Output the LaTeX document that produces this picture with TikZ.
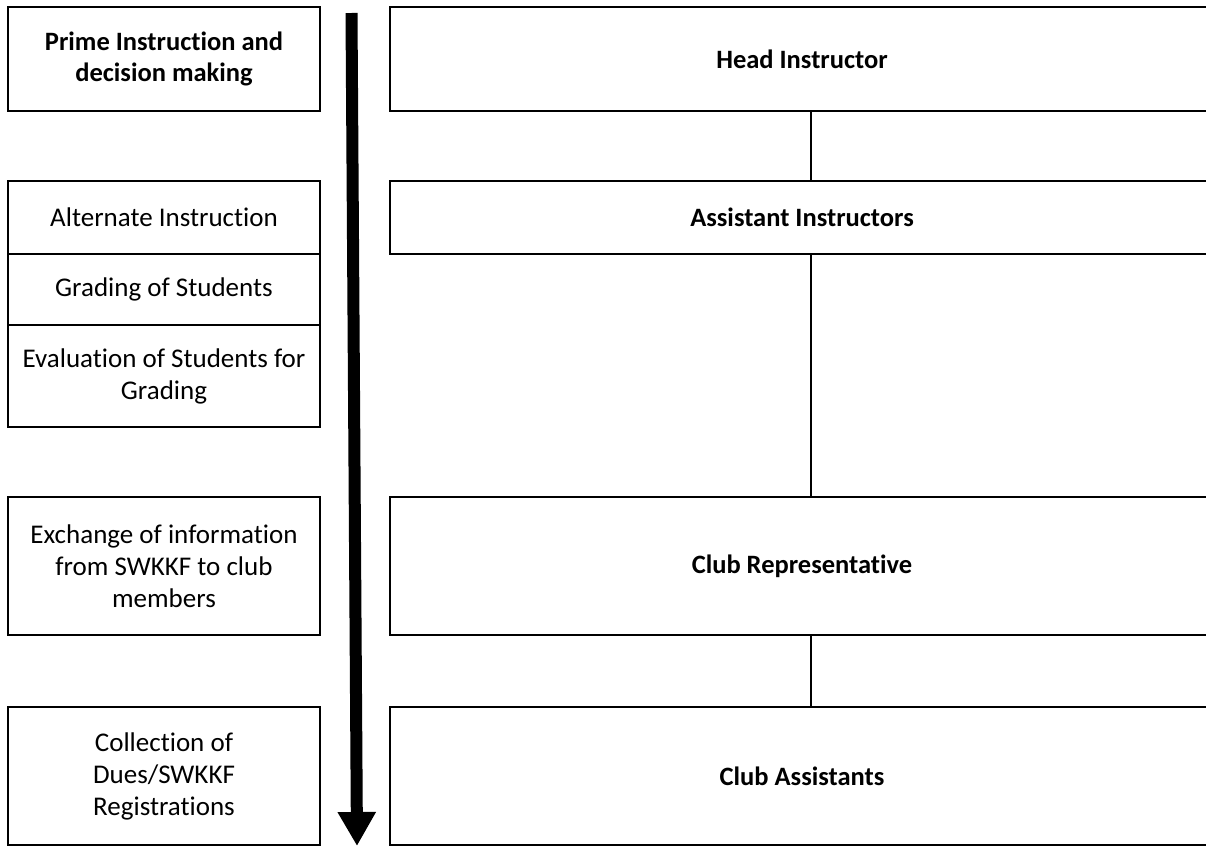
\documentclass[tikz,border=0pt]{standalone}
\usepackage{fontspec}
\setmainfont{Carlito}[Ligatures=CommonOff]
\usetikzlibrary{arrows.meta}
\begin{document}
\begin{tikzpicture}[x=1pt,y=-1pt,
  box/.style={draw, line width=2.6pt, inner sep=0pt, align=center,
    font=\fontsize{27}{32}\selectfont},
  lbox/.style={box, minimum width=312pt},
  rbox/.style={box, minimum width=824pt, font=\fontsize{26.5}{32}\selectfont\bfseries},
  link/.style={line width=2pt},
  flow/.style={line width=12pt, -{Triangle[width=36pt,length=34pt]}}]
\useasboundingbox (0,0) rectangle (1206,846);
\clip (0,0) rectangle (1206,846);
\fill[white] (0,0) rectangle (1206,846);
% left column
\node[lbox, minimum height=104pt, font=\fontsize{26.5}{31}\selectfont\bfseries] (p1) at (164,59) {Prime Instruction and\\decision making};
\node[lbox, minimum height=73pt] (a1) at (164,217.5) {Alternate Instruction};
\node[lbox, minimum height=71pt] (a2) at (164,289.5) {Grading of Students};
\node[lbox, minimum height=102pt] (a3) at (164,376) {Evaluation of Students for\\Grading};
\node[lbox, minimum height=138pt] (ex) at (164,566) {Exchange of information\\from SWKKF to club\\members};
\node[lbox, minimum height=138pt] (co) at (164,776) {Collection of\\Dues/SWKKF\\Registrations};
% right column
\node[rbox, minimum height=104pt] (hi) at (802,59) {Head Instructor};
\node[rbox, minimum height=73pt] (ai) at (802,217.5) {Assistant Instructors};
\node[rbox, minimum height=138pt] (cr) at (802,566) {Club Representative};
\node[rbox, minimum height=138pt] (ca) at (802,776) {Club Assistants};
\draw[link] ([xshift=8.7pt]hi.south) -- ([xshift=8.7pt]ai.north);
\draw[link] ([xshift=8.7pt]ai.south) -- ([xshift=8.7pt]cr.north);
\draw[link] ([xshift=8.7pt]cr.south) -- ([xshift=8.7pt]ca.north);
% flow arrow
\coordinate (ftop) at (351.5,13);
\coordinate (fbot) at (357,846);
\draw[flow] (ftop) -- (fbot);
\end{tikzpicture}
\end{document}
